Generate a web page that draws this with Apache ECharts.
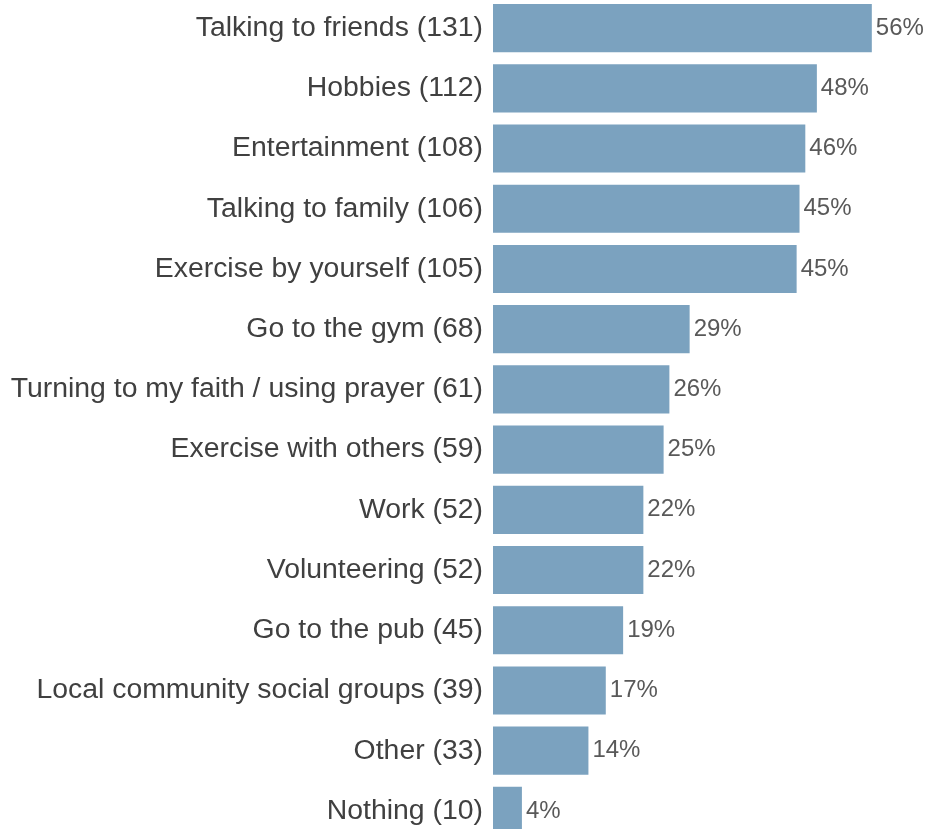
<!DOCTYPE html>
<html>
<head>
<meta charset="utf-8">
<script src="https://cdn.jsdelivr.net/npm/echarts@6/dist/echarts.min.js"></script>
<style>
  html, body { margin: 0; padding: 0; background: #ffffff; }
  #chart { width: 927px; height: 829px; }
</style>
</head>
<body>
<div id="chart"></div>
<script>
// Activities respondents used to cope, with the number of respondents choosing each
const activities = [
  'Talking to friends',
  'Hobbies',
  'Entertainment',
  'Talking to family',
  'Exercise by yourself',
  'Go to the gym',
  'Turning to my faith / using prayer',
  'Exercise with others',
  'Work',
  'Volunteering',
  'Go to the pub',
  'Local community social groups',
  'Other',
  'Nothing'
];
const counts = [131, 112, 108, 106, 105, 68, 61, 59, 52, 52, 45, 39, 33, 10];
const respondents = 234;

// Share of respondents per activity, in percent
const shares = counts.map(c => c / respondents * 100);
const axisLabels = activities.map((a, i) => a + ' (' + counts[i] + ')');

const chart = echarts.init(document.getElementById('chart'), null, { renderer: 'canvas' });
chart.setOption({
  animation: false,
  backgroundColor: '#ffffff',
  grid: {
    left: 493, top: -2, width: 406, height: 843,
    containLabel: false,
    outerBoundsMode: 'none'
  },
  xAxis: {
    type: 'value',
    min: 0,
    max: 60,
    show: false
  },
  yAxis: {
    type: 'category',
    inverse: true,
    data: axisLabels,
    axisLine: { show: false },
    axisTick: { show: false },
    splitLine: { show: false },
    axisLabel: {
      margin: 10,
      color: '#404040',
      fontFamily: 'Liberation Sans, Arial, sans-serif',
      fontSize: 28.4
    }
  },
  series: [{
    type: 'bar',
    data: shares,
    barCategoryGap: '20%',
    itemStyle: { color: '#7BA2BF' },
    label: {
      show: true,
      position: 'right',
      distance: 4,
      color: '#595959',
      fontFamily: 'Liberation Sans, Arial, sans-serif',
      fontSize: 24,
      formatter: p => Math.round(p.value) + '%'
    }
  }]
});
</script>
</body>
</html>
